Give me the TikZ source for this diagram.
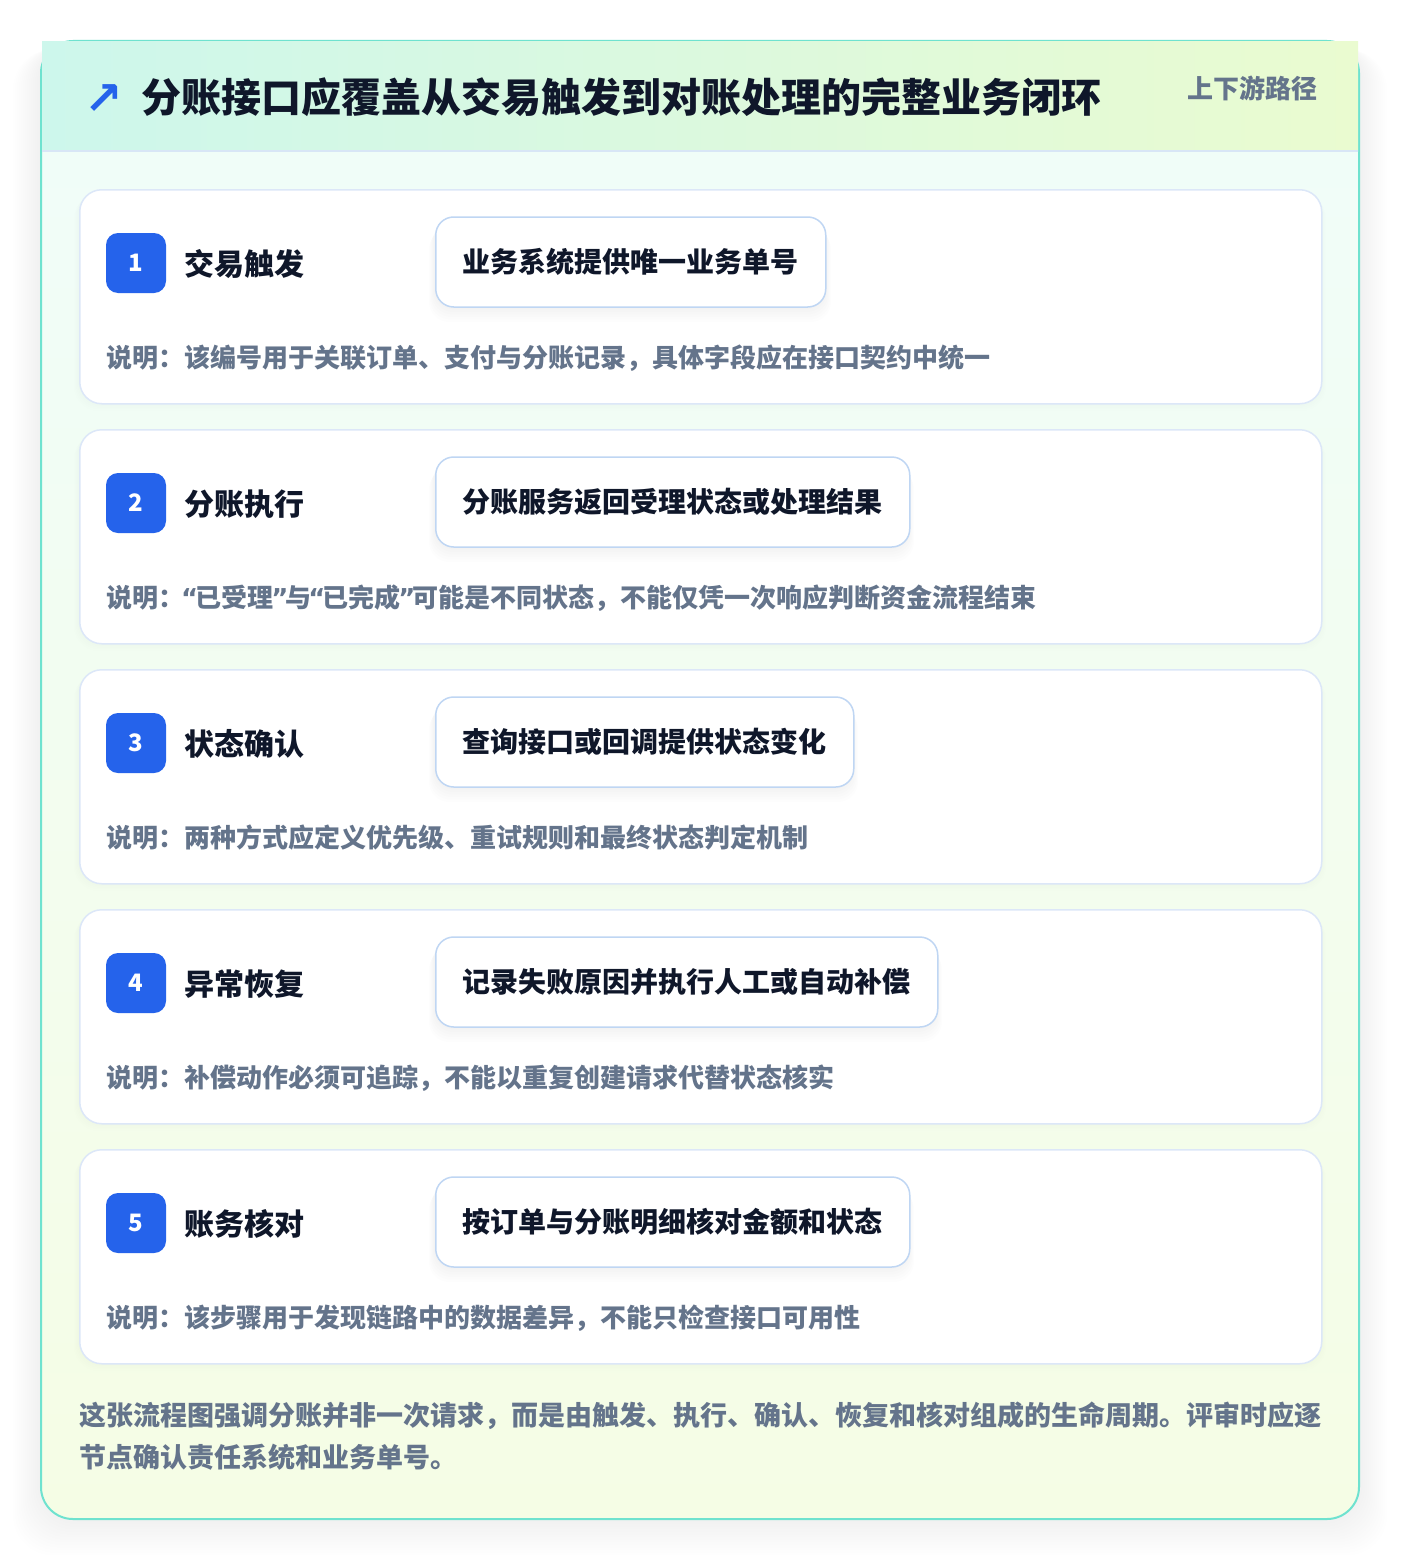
\documentclass[tikz,border=0pt]{standalone}
\usepackage{fontspec}
\setmainfont{Noto Sans CJK SC}
\newfontfamily\symf{DejaVu Sans}
\definecolor{titlec}{HTML}{0F172A}
\definecolor{descc}{HTML}{64748B}
\definecolor{badgec}{HTML}{2563EB}
\definecolor{cardborder}{HTML}{DCE7F8}
\definecolor{boxborder}{HTML}{BFD6F3}
\definecolor{tealc}{HTML}{6FE2CF}
\definecolor{headL}{HTML}{CDF7EC}
\definecolor{headR}{HTML}{EAFBD0}
\definecolor{bodyT}{HTML}{F0FDFA}
\definecolor{bodyB}{HTML}{F5FDE5}
\definecolor{headline}{HTML}{D8E6F6}
\newcommand{\fs}[1]{\fontsize{#1pt}{#1pt}\selectfont}
\newcommand{\myLq}{{\symf\bfseries\kern-3pt“\kern-2.5pt}}
\newcommand{\myRq}{{\symf\bfseries\kern-2.5pt”\kern-3pt}}
\begin{document}
\begin{tikzpicture}[x=1pt,y=-1pt,
  cardbox/.style={draw=cardborder, line width=1.5pt, fill=white,
    rounded corners=22pt, minimum width=1242pt, minimum height=214pt, anchor=north west, inner sep=0pt},
  badge/.style={fill=badgec, rounded corners=12pt, minimum width=60pt, minimum height=60pt,
    text=white, font=\bfseries\fs{24}, inner sep=0pt},
  steptitle/.style={anchor=base west, inner sep=0pt, text=titlec, font=\bfseries\fs{30}},
  infobox/.style={draw=boxborder, line width=1.5pt, fill=white, rounded corners=18pt,
    minimum height=90pt, inner xsep=27pt, inner ysep=0pt, anchor=west, text=titlec, font=\bfseries\fs{28}},
  desctext/.style={anchor=base west, inner sep=0pt, text=descc, font=\bfseries\fs{26}},
  foottext/.style={anchor=base west, inner sep=0pt, text=descc, font=\bfseries\fs{27}}
]
\useasboundingbox (0,0) rectangle (1400,1560);
\fill[white] (0,0) rectangle (1400,1560);
% outer shadow
\foreach \k in {1,...,14}{
  \fill[black, opacity=0.0045, rounded corners=40pt] ({41-2*\k},{41+0.6*\k}) rectangle ({1359+2*\k},{1519+2.6*\k});
}
% outer card
\shade[top color=bodyT, bottom color=bodyB, rounded corners=32pt] (41,41) rectangle (1359,1519);
\draw[tealc, line width=2pt, rounded corners=32pt] (41,41) rectangle (1359,1519);
% header
\shade[left color=headL, right color=headR] (42,42) rectangle (1358,151);
\draw[headline, line width=1.5pt] (42,151) -- (1358,151);
\node[anchor=base west, inner sep=0pt, text=badgec, font=\symf\bfseries\fs{46}] (icon) at (84,115) {↗};
\node[anchor=base west, inner sep=0pt, text=titlec, font=\bfseries\fs{40}] (title) at (141,113) {分账接口应覆盖从交易触发到对账处理的完整业务闭环};
\node[anchor=base east, inner sep=0pt, text=descc, font=\bfseries\fs{26}] (tag) at (1318,99) {上下游路径};
% steps
\foreach \i/\num/\ttl/\bx/\rr/\desc in {
  0/1/交易触发/业务系统提供唯一业务单号/825/说明：该编号用于关联订单、支付与分账记录，具体字段应在接口契约中统一,
  1/2/分账执行/分账服务返回受理状态或处理结果/908/说明：\myLq 已受理\myRq 与\myLq 已完成\myRq 可能是不同状态，不能仅凭一次响应判断资金流程结束,
  2/3/状态确认/查询接口或回调提供状态变化/852/说明：两种方式应定义优先级、重试规则和最终状态判定机制,
  3/4/异常恢复/记录失败原因并执行人工或自动补偿/936/说明：补偿动作必须可追踪，不能以重复创建请求代替状态核实,
  4/5/账务核对/按订单与分账明细核对金额和状态/908/说明：该步骤用于发现链路中的数据差异，不能只检查接口可用性}{
  \pgfmathsetmacro{\t}{189+240*\i}
  \foreach \k in {1,...,5}{
    \fill[black, opacity=0.005, rounded corners=24pt] ({79-\k},{\t+\k}) rectangle ({1321+\k},{\t+214+1.6*\k});
  }
  \node[cardbox] (card\num) at (79,\t) {};
  \node[badge] (badge\num) at (136,\t+74) {\num};
  \node[steptitle] (stitle\num) at (184,\t+86) {\ttl};
  \foreach \k in {1,...,6}{
    \fill[black, opacity=0.007, rounded corners=20pt] ({435-\k},{\t+28+2*\k}) rectangle ({\rr+\k},{\t+118+2.5*\k});
  }
  \node[infobox] (box\num) at (435,\t+73) {\bx};
  \node[desctext] (desc\num) at (106,\t+178) {\desc};
}
% footer
\node[foottext] (foot1) at (79,1425) {这张流程图强调分账并非一次请求，而是由触发、执行、确认、恢复和核对组成的生命周期。评审时应逐};
\node[foottext] (foot2) at (79,1467) {节点确认责任系统和业务单号。};
\end{tikzpicture}
\end{document}
